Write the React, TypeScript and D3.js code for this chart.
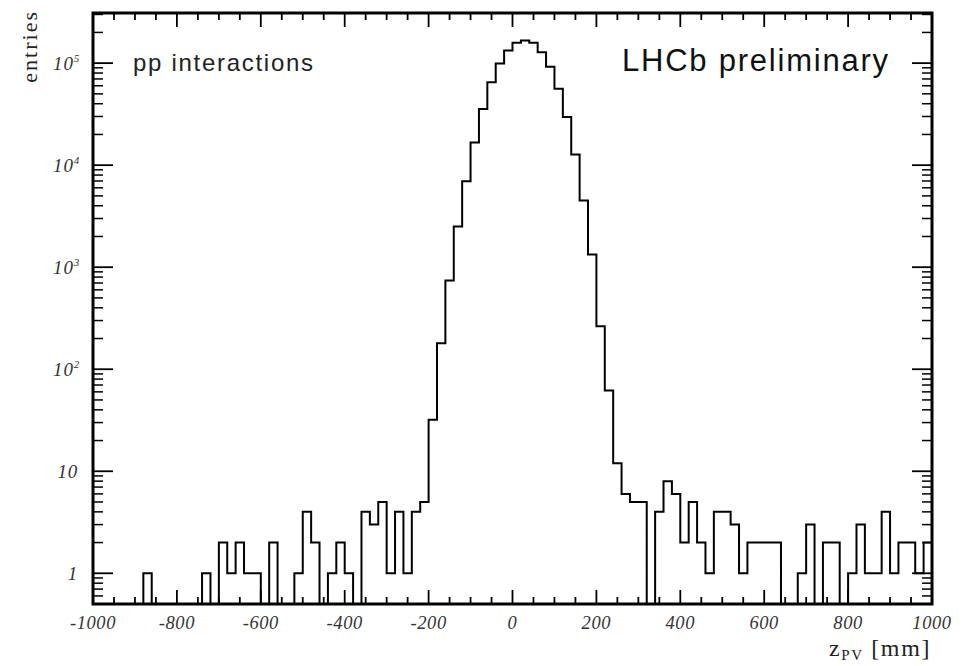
import React from "react";
import * as d3 from "d3";

const W = 969;
const H = 666;
const M = { left: 93, right: 932, top: 13, bottom: 604 };

const xDomain: [number, number] = [-1000, 1000];
const yDomain: [number, number] = [0.5, 3.1e5];
const binWidth = 20;

// entries per 20 mm bin, from z = -1000 to +1000
const counts = [
  0, 0, 0, 0, 0, 0, 1, 0, 0, 0,
  0, 0, 0, 1, 0, 2, 1, 2, 1, 1,
  0, 2, 0, 0, 1, 4, 2, 0, 1, 2,
  1, 0, 4, 3, 5, 1, 4, 1, 4, 5,
  32, 180, 740, 2500, 6950, 16700, 35500, 65000, 99000, 133000,
  158000, 167000, 158000, 128000, 92000, 56000, 29700, 12700, 4500, 1330,
  264, 62, 12, 6, 5, 5, 0, 4, 8, 6,
  2, 5, 2, 1, 4, 4, 3, 1, 2, 2,
  2, 2, 0, 0, 1, 3, 0, 2, 2, 0,
  1, 3, 1, 1, 4, 1, 2, 2, 1, 2,
];

const xTickValues = [-1000, -800, -600, -400, -200, 0, 200, 400, 600, 800, 1000];
const xTickLabels = ["-1000", "-800", "-600", "-400", "-200", "0", "200", "400", "600", "800", "1000"];
const yTickValues = [1, 10, 100, 1000, 10000, 100000];
const yTickBase = ["1", "10", "10", "10", "10", "10"];
const yTickExp = ["", "", "2", "3", "4", "5"];

export default function App() {
  const x = d3.scaleLinear().domain(xDomain).range([M.left, M.right]);
  const y = d3.scaleLog().domain(yDomain).range([M.bottom, M.top]);

  const edges = d3.range(counts.length).map((i) => xDomain[0] + i * binWidth);
  const pts: [number, number][] = [];
  pts.push([x(edges[0]), y(yDomain[0])]);
  counts.forEach((c, i) => {
    const yy = y(Math.max(c, yDomain[0]));
    pts.push([x(edges[i]), yy], [x(edges[i] + binWidth), yy]);
  });
  pts.push([x(edges[edges.length - 1] + binWidth), y(yDomain[0])]);
  const path = d3.line()(pts) || "";

  const xMinor = d3.range(xDomain[0], xDomain[1] + 1, 50);
  const yMinor: number[] = [];
  for (let e = -1; e <= 5; e++) {
    for (let k = 2; k <= 9; k++) {
      const v = k * Math.pow(10, e);
      if (v > yDomain[0] && v < yDomain[1]) yMinor.push(v);
    }
  }

  const serif = "'Liberation Serif', 'Times New Roman', serif";
  const sans = "'Liberation Sans', Arial, sans-serif";

  return (
    <svg width={W} height={H} style={{ position: "absolute", left: 0, top: 0, background: "#fff" }}>
      <rect x={0} y={0} width={W} height={H} fill="#fff" />
      {/* histogram */}
      <path d={path} fill="none" stroke="#000" strokeWidth={2} />

      {/* x ticks */}
      {xMinor.map((v) => {
        const major = v % 200 === 0;
        const len = major ? 14 : 7;
        return (
          <g key={"xt" + v}>
            <line x1={x(v)} x2={x(v)} y1={M.bottom} y2={M.bottom - len} stroke="#000" strokeWidth={1.8} />
            <line x1={x(v)} x2={x(v)} y1={M.top} y2={M.top + len} stroke="#000" strokeWidth={1.8} />
          </g>
        );
      })}
      {/* y ticks */}
      {yTickValues.map((v) => (
        <g key={"ytM" + v}>
          <line x1={M.left} x2={M.left + 20} y1={y(v)} y2={y(v)} stroke="#000" strokeWidth={1.8} />
          <line x1={M.right} x2={M.right - 20} y1={y(v)} y2={y(v)} stroke="#000" strokeWidth={1.8} />
        </g>
      ))}
      {yMinor.map((v) => (
        <g key={"ytm" + v}>
          <line x1={M.left} x2={M.left + 10} y1={y(v)} y2={y(v)} stroke="#000" strokeWidth={1.5} />
          <line x1={M.right} x2={M.right - 10} y1={y(v)} y2={y(v)} stroke="#000" strokeWidth={1.5} />
        </g>
      ))}

      {/* frame */}
      <rect
        x={M.left}
        y={M.top}
        width={M.right - M.left}
        height={M.bottom - M.top}
        fill="none"
        stroke="#000"
        strokeWidth={3}
      />

      {/* x tick labels */}
      {xTickValues.map((v, i) => (
        <text
          key={"xl" + v}
          x={x(v)}
          y={629}
          textAnchor="middle"
          fontFamily={serif}
          fontStyle="italic"
          fontSize={18.5}
          letterSpacing={0.6}
          fill="#333"
        >
          {xTickLabels[i]}
        </text>
      ))}

      {/* y tick labels */}
      {yTickValues.map((v, i) => (
        <text
          key={"yl" + v}
          x={yTickExp[i] ? 80 : 78}
          y={y(v) + 6.5}
          textAnchor="end"
          fontFamily={serif}
          fontStyle="italic"
          fontSize={19}
          letterSpacing={0.8}
          fill="#333"
        >
          {yTickBase[i]}
          {yTickExp[i] ? (
            <tspan fontSize={11} dy={-8}>
              {yTickExp[i]}
            </tspan>
          ) : null}
        </text>
      ))}

      {/* axis titles */}
      <text
        transform="translate(37,10) rotate(-90)"
        textAnchor="end"
        fontFamily={serif}
        fontSize={22}
        letterSpacing={2}
        fill="#222"
      >
        entries
      </text>
      <text x={931} y={656} textAnchor="end" fontFamily={serif} fontSize={24} letterSpacing={1.6} fill="#222">
        z
        <tspan fontSize={15} dy={4}>
          PV
        </tspan>
        <tspan fontSize={24} dy={-4}>
          {" [mm]"}
        </tspan>
      </text>

      {/* annotations */}
      <text x={133} y={71} fontFamily={sans} fontSize={24} textLength={180} lengthAdjust="spacing" fill="#222">
        pp interactions
      </text>
      <text x={622} y={71} fontFamily={sans} fontSize={31} textLength={266} lengthAdjust="spacing" fill="#111">
        LHCb preliminary
      </text>
    </svg>
  );
}
